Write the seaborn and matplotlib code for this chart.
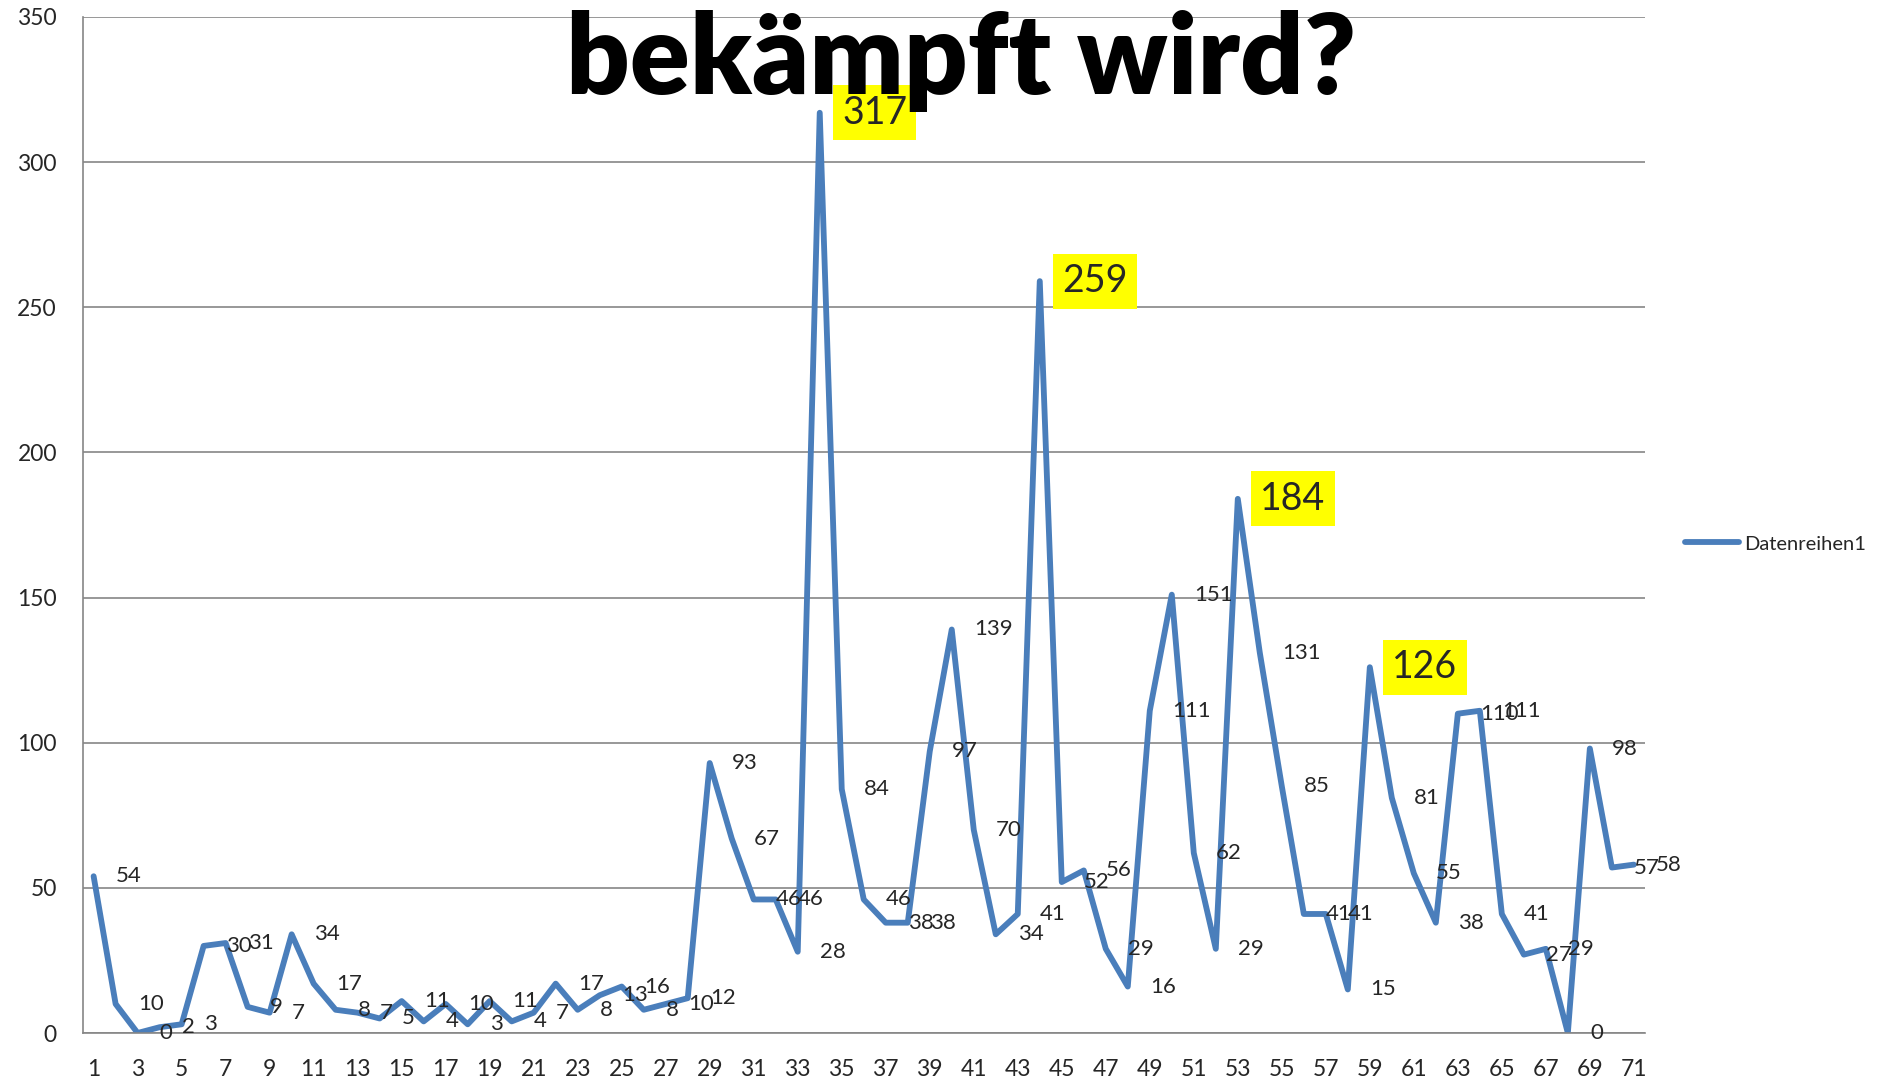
import numpy as np
import pandas as pd
import seaborn as sns
import matplotlib.pyplot as plt
from matplotlib.ticker import FixedLocator

# values per category (1..71)
categories = list(range(1, 72))
values = [54, 10, 0, 2, 3, 30, 31, 9, 7, 34,
          17, 8, 7, 5, 11, 4, 10, 3, 11, 4,
          7, 17, 8, 13, 16, 8, 10, 12, 93, 67,
          46, 46, 28, 317, 84, 46, 38, 38, 97, 139,
          70, 34, 41, 259, 52, 56, 29, 16, 111, 151,
          62, 29, 184, 131, 85, 41, 41, 15, 126, 81,
          55, 38, 110, 111, 41, 27, 29, 0, 98, 57,
          58]
highlighted = [34, 44, 53, 59]
series_name = 'Datenreihen1'
title_text = 'bekämpft wird?'

df = pd.DataFrame({'cat': categories, 'value': values, 'series': series_name})

sns.set_style('white')
plt.rcParams['font.family'] = ['Lato', 'DejaVu Sans']

line_color = '#4A7EBB'
grid_color = '#868686'

fig = plt.figure(figsize=(18.95, 10.81), dpi=100)
ax = fig.add_axes([0.0436, 0.0444, 0.868 - 0.0436, 0.9843 - 0.0444])

sns.lineplot(data=df, x='cat', y='value', hue='series', palette=[line_color],
             linewidth=4.2, ax=ax, legend=True)

ax.set_xlim(0.5, 71.5)
ax.set_ylim(0, 350)
ax.set_yticks(np.arange(0, 351, 50))
ax.set_xticks(categories[::2])
ax.xaxis.set_minor_locator(FixedLocator(np.arange(0.5, 72, 1)))
ax.tick_params(axis='x', which='major', length=0, pad=19, labelsize=16.5)
ax.tick_params(axis='x', which='minor', length=6.5, width=1.2, color=grid_color, direction='out')
ax.tick_params(axis='y', length=6.5, width=1.2, color=grid_color, pad=12, labelsize=16.5)
ax.set_xlabel('')
ax.set_ylabel('')

ax.grid(axis='y', color=grid_color, linewidth=1.2)
ax.set_axisbelow(True)
for side in ['top', 'right']:
    ax.spines[side].set_visible(False)
for side in ['left', 'bottom']:
    ax.spines[side].set_color(grid_color)
    ax.spines[side].set_linewidth(1.2)

# data labels right of each point
for c, v in zip(categories, values):
    if c in highlighted:
        ax.annotate(str(v), (c, v), xytext=(16, 0), textcoords='offset points',
                    ha='left', va='center', fontsize=27, zorder=5,
                    bbox=dict(boxstyle='square,pad=0.25', fc='#FFFF00', ec='none'))
    else:
        ax.annotate(str(v), (c, v), xytext=(16, 0), textcoords='offset points',
                    ha='left', va='center', fontsize=16, zorder=4)

ax.legend(loc='center left', bbox_to_anchor=(0.889, 0.4968), bbox_transform=fig.transFigure,
          frameon=False, fontsize=14.5, handlelength=2.7, handletextpad=0.25,
          borderpad=0, borderaxespad=0)

fig.text(0.507, 0.913, title_text, ha='center', va='baseline', fontsize=80,
         fontweight='heavy', color='black', zorder=1)

fig.savefig('out.png', dpi=100)
